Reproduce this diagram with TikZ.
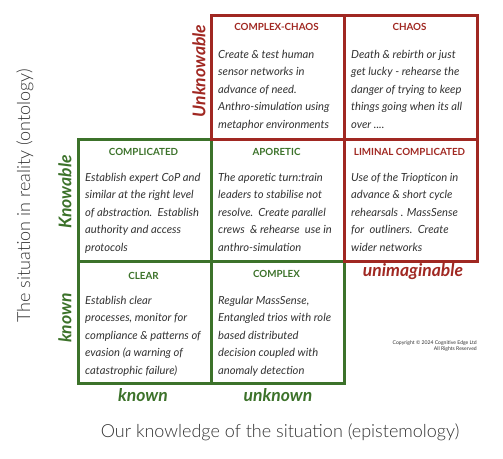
\documentclass[tikz,border=0pt]{standalone}
\usepackage{fontspec}
\setmainfont{Lato}
\newfontfamily\lightfont{Lato Light}
\definecolor{cred}{RGB}{160,40,34}
\definecolor{cgreen}{RGB}{60,114,42}
\definecolor{ctext}{RGB}{50,50,50}
\tikzset{
  cellbox/.style={draw, line width=2.7pt, minimum width=133pt, inner sep=0pt, anchor=north west},
  redcell/.style={cellbox, draw=cred},
  greencell/.style={cellbox, draw=cgreen},
  celltitle/.style={font=\bfseries\fontsize{9.8}{11}\selectfont, inner sep=0pt},
  cellbody/.style={font=\itshape\fontsize{11.2}{17.4}\selectfont, text=ctext, align=left, inner sep=0pt, anchor=north west},
  sidelabel/.style={font=\bfseries\itshape\fontsize{17.5}{19}\selectfont, inner sep=0pt},
  axislabel/.style={font=\lightfont\fontsize{18}{20}\selectfont, text=ctext, inner sep=0pt},
}
\begin{document}
\begin{tikzpicture}[x=1pt,y=-1pt]
\useasboundingbox (0,0) rectangle (503,458);
% green cells
\node[greencell, minimum height=122pt] (complicated) at (77,138) {};
\node[greencell, minimum height=122pt] (aporetic) at (210,138) {};
\node[greencell, minimum height=122pt] (clear) at (77,260) {};
\node[greencell, minimum height=122pt] (complex) at (210,260) {};
% red cells
\node[redcell, minimum height=124pt] (complexchaos) at (210,14) {};
\node[redcell, minimum height=124pt] (chaos) at (343,14) {};
\node[redcell, minimum height=122pt] (liminal) at (343,138) {};
% titles
\node[celltitle, text=cred] (t1) at (276.5,27) {COMPLEX-CHAOS};
\node[celltitle, text=cred] (t2) at (409.5,27) {CHAOS};
\node[celltitle, text=cgreen] (t3) at (143.5,152) {COMPLICATED};
\node[celltitle, text=cgreen] (t4) at (276.5,152) {APORETIC};
\node[celltitle, text=cred] (t5) at (409.5,152) {LIMINAL COMPLICATED};
\node[celltitle, text=cgreen] (t6) at (143.5,276) {CLEAR};
\node[celltitle, text=cgreen] (t7) at (276.5,274) {COMPLEX};
% bodies
\node[cellbody] (b1) at (218,50) {Create \& test human\\sensor networks in\\advance of need.\\Anthro-simulation using\\metaphor environments};
\node[cellbody] (b2) at (351,50) {Death \& rebirth or just\\get lucky - rehearse the\\danger of trying to keep\\things going when its all\\over ....};
\node[cellbody] (b3) at (85,173) {Establish expert CoP and\\similar at the right level\\of abstraction.\ \ Establish\\authority and access\\protocols};
\node[cellbody] (b4) at (218,173) {The aporetic turn:train\\leaders to stabilise not\\resolve.\ \ Create parallel\\crews\ \ \& rehearse\ \ use in\\anthro-simulation};
\node[cellbody] (b5) at (351,173) {Use of the Triopticon in\\advance \& short cycle\\rehearsals . MassSense\\for\ \ outliners.\ \ Create\\wider networks};
\node[cellbody] (b6) at (85,296) {Establish clear\\processes, monitor for\\compliance \& patterns of\\evasion (a warning of\\catastrophic failure)};
\node[cellbody] (b7) at (218,296) {Regular MassSense,\\Entangled trios with role\\based distributed\\decision coupled with\\anomaly detection};
% side labels
\node[sidelabel, text=cred, rotate=90] (unknowable) at (199,71) {Unknowable};
\node[sidelabel, text=cgreen, rotate=90] (knowable) at (65,192) {Knowable};
\node[sidelabel, text=cgreen, rotate=90] (knownv) at (65,318) {known};
\node[sidelabel, text=cgreen] (knownh) at (143,395) {known};
\node[sidelabel, text=cgreen] (unknownh) at (278,395) {unknown};
\node[sidelabel, text=cred] (unimaginable) at (413,272) {unimaginable};
% axis labels
\node[axislabel, rotate=90] (ontology) at (25,196) {The situation in reality (ontology)};
\node[axislabel] (epistemology) at (280,432) {Our knowledge of the situation (epistemology)};
% copyright
\node[font=\fontsize{5.1}{6.4}\selectfont, text=ctext, align=right, anchor=east, inner sep=0pt] (copy) at (477,346) {Copyright © 2024 Cognitive Edge Ltd\\All Rights Reserved};
\end{tikzpicture}
\end{document}
